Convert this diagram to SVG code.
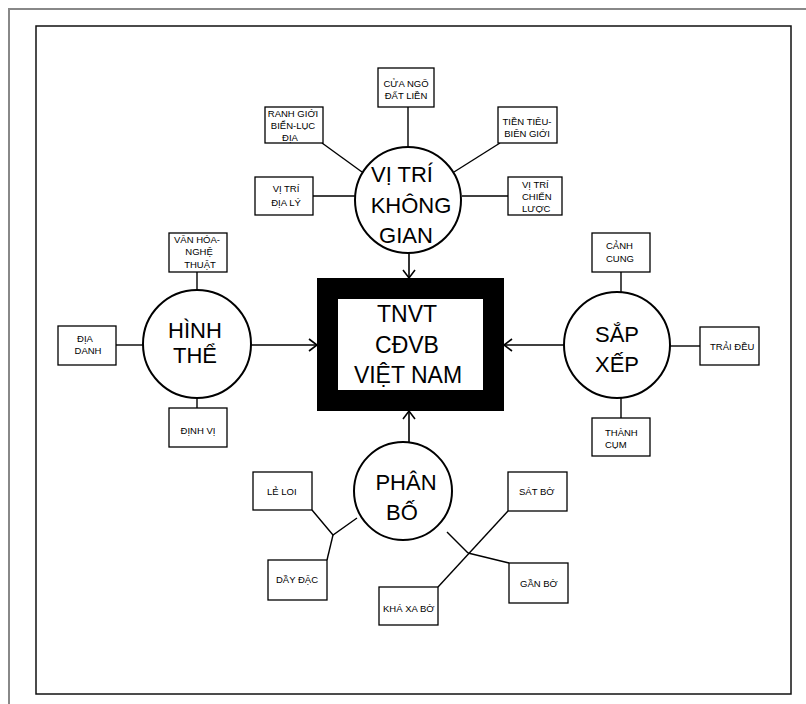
<svg xmlns="http://www.w3.org/2000/svg" width="806" height="704" viewBox="0 0 806 704">
<defs>
<style>
.frame-outer{fill:none;stroke:#888;stroke-width:2}
.frame-inner{fill:none;stroke:#111;stroke-width:1.5}
.box{fill:#fff;stroke:#000;stroke-width:1.3}
.circ{fill:#fff;stroke:#000;stroke-width:2}
.ln{fill:none;stroke:#000;stroke-width:1.4}
.arr{fill:none;stroke:#000;stroke-width:1.6;marker-end:url(#ah)}
.s{font-family:"Liberation Sans",Arial,sans-serif;font-size:9.5px;fill:#000}
.b{font-family:"Liberation Sans",Arial,sans-serif;font-size:22px;fill:#000;text-anchor:middle}
.c{font-family:"Liberation Sans",Arial,sans-serif;font-size:23px;fill:#000;text-anchor:middle}
.m{text-anchor:middle}
</style>
<marker id="ah" markerWidth="12" markerHeight="14" refX="9" refY="7" orient="auto" markerUnits="userSpaceOnUse">
<path d="M1,1 L9,7 L1,13" fill="none" stroke="#000" stroke-width="1.6"/>
</marker>
</defs>
<rect width="806" height="704" fill="#fff"/>
<rect class="frame-outer" x="9" y="9" width="820" height="720"/>
<rect class="frame-inner" x="36" y="26" width="755" height="668"/>

<g id="connectors">
<!-- VI TRI -->
<line class="ln" x1="408" y1="107" x2="408" y2="148"/>
<line class="ln" x1="322" y1="143" x2="362" y2="172"/>
<line class="ln" x1="500" y1="143" x2="454" y2="172"/>
<line class="ln" x1="313" y1="196" x2="355" y2="196"/>
<line class="ln" x1="462" y1="196" x2="508" y2="196"/>
<line class="arr" x1="409" y1="253" x2="409" y2="278"/>
<!-- HINH THE -->
<line class="ln" x1="197" y1="272" x2="197" y2="291"/>
<line class="ln" x1="116" y1="345" x2="143" y2="345"/>
<line class="ln" x1="197" y1="397" x2="197" y2="408"/>
<line class="arr" x1="251" y1="345" x2="317" y2="345"/>
<!-- SAP XEP -->
<line class="ln" x1="621" y1="272" x2="621" y2="293"/>
<line class="ln" x1="670" y1="346" x2="700" y2="346"/>
<line class="ln" x1="621" y1="397" x2="621" y2="418"/>
<line class="arr" x1="564" y1="345" x2="504" y2="345"/>
<!-- PHAN BO -->
<line class="arr" x1="409" y1="442" x2="409" y2="411"/>
<polyline class="ln" points="312,510 333,535 357,518"/>
<line class="ln" x1="333" y1="535" x2="327" y2="560"/>
<line class="ln" x1="447" y1="532" x2="468" y2="553"/>
<line class="ln" x1="508" y1="511" x2="438" y2="587"/>
<line class="ln" x1="468" y1="553" x2="509" y2="563"/>
</g>

<g id="center">
<rect x="327.5" y="288.5" width="166" height="112" fill="#fff" stroke="#000" stroke-width="21"/>
<text class="c" x="407" y="322">TNVT</text>
<text class="c" x="407" y="353">CĐVB</text>
<text class="c" x="408" y="383">VIỆT NAM</text>
</g>

<g id="vitri">
<circle class="circ" cx="408" cy="200" r="53"/>
<text class="b" x="402" y="182">VỊ TRÍ</text>
<text class="b" x="411" y="213">KHÔNG</text>
<text class="b" x="406" y="243">GIAN</text>
</g>
<g id="cuango">
<rect class="box" x="378" y="68" width="56" height="39"/>
<text class="s m" x="406" y="87">CỬA NGÕ</text>
<text class="s m" x="406" y="99">ĐẤT LIỀN</text>
</g>
<g id="ranhgioi">
<rect class="box" x="265" y="107" width="58" height="36"/>
<text class="s m" x="293" y="117">RANH GIỚI</text>
<text class="s m" x="293" y="129">BIỂN-LỤC</text>
<text class="s m" x="290" y="141">ĐỊA</text>
</g>
<g id="tientieu">
<rect class="box" x="498" y="107" width="59" height="36"/>
<text class="s m" x="527" y="125">TIỀN TIÊU-</text>
<text class="s m" x="527" y="137">BIÊN GIỚI</text>
</g>
<g id="vitridialy">
<rect class="box" x="255" y="177" width="58" height="38"/>
<text class="s m" x="286" y="192">VỊ TRÍ</text>
<text class="s m" x="286" y="206">ĐỊA LÝ</text>
</g>
<g id="vitrichienluoc">
<rect class="box" x="508" y="177" width="54" height="38"/>
<text class="s" x="522" y="188">VỊ TRÍ</text>
<text class="s" x="522" y="200">CHIẾN</text>
<text class="s" x="522" y="212">LƯỢC</text>
</g>

<g id="hinhthe">
<circle class="circ" cx="197" cy="344" r="54"/>
<text class="b" x="195" y="338">HÌNH</text>
<text class="b" x="195" y="363">THỂ</text>
</g>
<g id="vanhoa">
<rect class="box" x="169" y="233" width="58" height="39"/>
<text class="s m" x="197" y="243">VĂN HÓA-</text>
<text class="s m" x="199" y="255">NGHỆ</text>
<text class="s m" x="200" y="268">THUẬT</text>
</g>
<g id="diadanh">
<rect class="box" x="58" y="326" width="58" height="39"/>
<text class="s m" x="85" y="342">ĐỊA</text>
<text class="s m" x="88" y="354">DANH</text>
</g>
<g id="dinhvi">
<rect class="box" x="169" y="408" width="58" height="39"/>
<text class="s m" x="198" y="434">ĐỊNH VỊ</text>
</g>

<g id="sapxep">
<circle class="circ" cx="617" cy="345" r="53"/>
<text class="b" x="617" y="342">SẮP</text>
<text class="b" x="617" y="372">XẾP</text>
</g>
<g id="canhcung">
<rect class="box" x="592" y="233" width="58" height="39"/>
<text class="s" x="606" y="249">CẢNH</text>
<text class="s" x="606" y="262">CUNG</text>
</g>
<g id="traideu">
<rect class="box" x="700" y="327" width="59" height="38"/>
<text class="s" x="710" y="350">TRẢI ĐỀU</text>
</g>
<g id="thanhcum">
<rect class="box" x="592" y="418" width="58" height="38"/>
<text class="s" x="605" y="436">THÀNH</text>
<text class="s" x="605" y="448">CỤM</text>
</g>

<g id="phanbo">
<circle class="circ" cx="403" cy="491" r="49"/>
<text class="b" x="406" y="490">PHÂN</text>
<text class="b" x="402" y="520">BỐ</text>
</g>
<g id="leloi">
<rect class="box" x="253" y="472" width="59" height="38"/>
<text class="s" x="267" y="495">LẺ LOI</text>
</g>
<g id="dayDac">
<rect class="box" x="268" y="560" width="59" height="40"/>
<text class="s" x="276" y="583">DẦY ĐẶC</text>
</g>
<g id="satbo">
<rect class="box" x="508" y="472" width="59" height="39"/>
<text class="s" x="519" y="495">SÁT BỜ</text>
</g>
<g id="ganbo">
<rect class="box" x="509" y="563" width="59" height="40"/>
<text class="s" x="520" y="587">GẦN BỜ</text>
</g>
<g id="khaxabo">
<rect class="box" x="379" y="587" width="59" height="38"/>
<text class="s" x="383" y="612">KHÁ XA BỜ</text>
</g>
</svg>
